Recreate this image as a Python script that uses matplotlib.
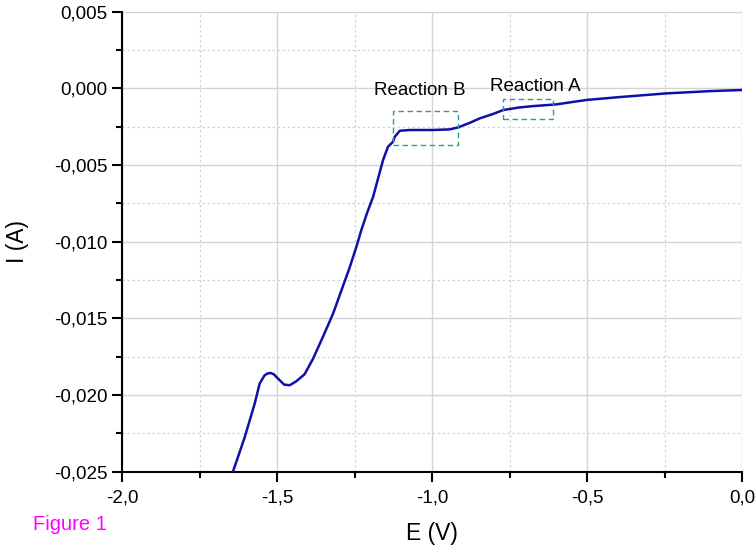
import numpy as np
import matplotlib.pyplot as plt
from matplotlib.ticker import MultipleLocator, FuncFormatter
from matplotlib.patches import Rectangle

plt.rcParams["font.family"] = "sans-serif"
plt.rcParams["font.sans-serif"] = ["Liberation Sans"]

# Data
E = [-1.642, -1.604, -1.572, -1.556, -1.540, -1.530, -1.520, -1.510, -1.502,
     -1.477, -1.459, -1.437, -1.411, -1.384, -1.352, -1.319, -1.292, -1.265,
     -1.244, -1.228, -1.210, -1.190, -1.158, -1.142, -1.126, -1.120, -1.104,
     -1.072, -1.000, -0.943, -0.916, -0.878, -0.846, -0.800, -0.771, -0.720,
     -0.674, -0.600, -0.502, -0.400, -0.244, -0.100, 0.000]
I = [-0.02500, -0.02275, -0.02057, -0.01926, -0.01872, -0.01860, -0.01857,
     -0.01866, -0.01883, -0.01933, -0.01937, -0.01910, -0.01865, -0.01765,
     -0.01622, -0.01469, -0.01317, -0.01165, -0.01034, -0.00925, -0.00816,
     -0.00708, -0.00468, -0.00381, -0.00349, -0.00316, -0.00277, -0.00272,
     -0.00272, -0.00268, -0.00255, -0.00225, -0.00196, -0.00165, -0.00142,
     -0.00125, -0.00116, -0.00105, -0.00076, -0.00058, -0.00033, -0.00018,
     -0.00011]

# Annotation boxes (E range, I range) and labels
box_labels = ["Reaction B", "Reaction A"]
box_E = [(-1.126, -0.916), (-0.771, -0.610)]
box_I = [(-0.00371, -0.00146), (-0.00202, -0.00072)]
label_pos = [(-1.040, -0.00011), (-0.667, 0.00015)]

fig = plt.figure(figsize=(7.56, 5.46), dpi=100)
ax = fig.add_axes([0.1614, 0.1364, 0.8201, 0.8422])

ax.plot(E, I, color="#1010a8", linewidth=1.8, solid_joinstyle="round", zorder=3)

for lab, (e0, e1), (i0, i1), (tx, ty) in zip(box_labels, box_E, box_I, label_pos):
    ax.add_patch(Rectangle((e0, i0), e1 - e0, i1 - i0, fill=False,
                           edgecolor="#2a9a9a", linestyle=(0, (4, 2.5)),
                           linewidth=1.0, zorder=4))
    ax.text(tx, ty, lab, ha="center", va="center", fontsize=13.5, zorder=5)

ax.set_xlim(-2.0, 0.0)
ax.set_ylim(-0.025, 0.005)

ax.xaxis.set_major_locator(MultipleLocator(0.5))
ax.xaxis.set_minor_locator(MultipleLocator(0.25))
ax.yaxis.set_major_locator(MultipleLocator(0.005))
ax.yaxis.set_minor_locator(MultipleLocator(0.0025))

ax.xaxis.set_major_formatter(FuncFormatter(lambda v, p: "0,0" if abs(v) < 1e-9 else f"{v:.1f}".replace(".", ",")))
ax.yaxis.set_major_formatter(FuncFormatter(lambda v, p: "0,000" if abs(v) < 1e-9 else f"{v:.3f}".replace(".", ",")))

ax.grid(True, which="major", color="#d4d4d4", linewidth=1.0, linestyle="-")
ax.grid(True, which="minor", color="#d4d4d4", linewidth=0.9, linestyle=(0, (2, 2)))
ax.set_axisbelow(True)

for side in ["top", "right"]:
    ax.spines[side].set_visible(False)
for side in ["left", "bottom"]:
    ax.spines[side].set_linewidth(1.5)

ax.tick_params(which="major", direction="out", length=7, width=1.5, labelsize=13.5)
ax.tick_params(axis="x", which="major", pad=6)
ax.tick_params(which="minor", direction="out", length=4, width=1.5)

ax.set_xlabel("E (V)", fontsize=16.5, labelpad=11)
ax.set_ylabel("I (A)", fontsize=16.5, labelpad=18)

fig.text(0.044, 0.029, "Figure 1", color="#ff00ff", fontsize=14.5, va="baseline")

fig.savefig("out.png", dpi=100)
